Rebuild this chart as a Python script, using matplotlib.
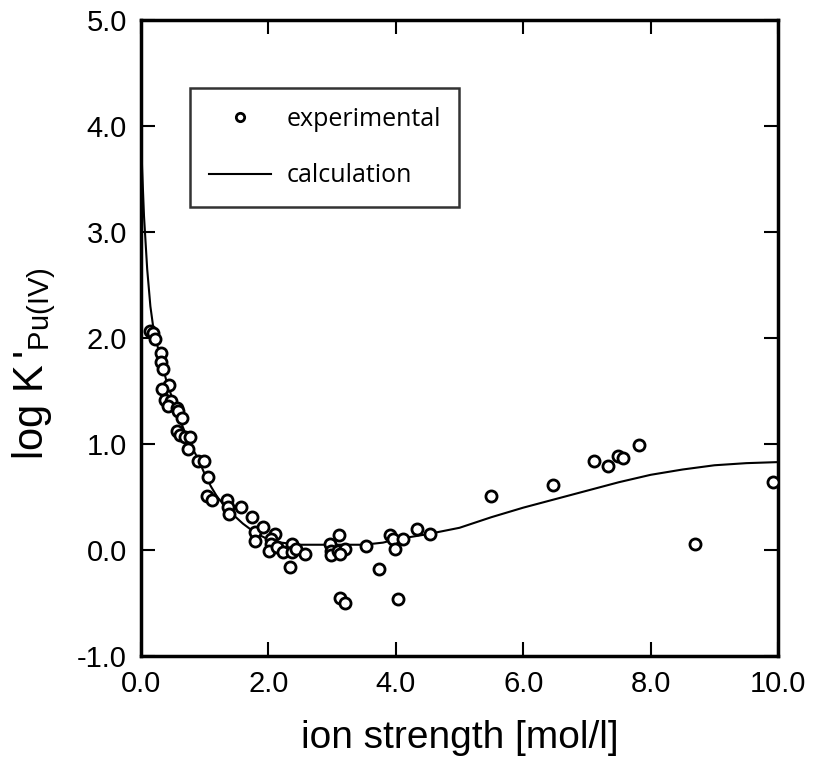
import matplotlib
matplotlib.use('Agg')
import matplotlib.pyplot as plt
import numpy as np

plt.rcParams['font.family'] = ['Liberation Sans', 'DejaVu Sans']
plt.rcParams['mathtext.fontset'] = 'custom'
plt.rcParams['mathtext.rm'] = 'Liberation Sans'
plt.rcParams['axes.unicode_minus'] = False

# experimental points (ion strength, log K')
exp_x = [0.15, 0.19, 0.22, 0.31, 0.31, 0.35, 0.44, 0.34, 0.38, 0.48, 0.43, 0.56, 0.59, 0.64,
         0.56, 0.61, 0.69, 0.77, 0.74, 0.90, 0.99, 1.05, 1.04, 1.11, 1.35, 1.36, 1.38, 1.57,
         1.74, 1.79, 1.91, 1.79, 2.10, 2.05, 2.04, 2.01, 2.13, 2.23, 2.37, 2.37, 2.44, 2.57,
         2.34, 2.97, 2.99, 2.98, 3.11, 3.10, 3.20, 3.12, 3.53, 3.91, 3.95, 3.99, 4.12, 4.33,
         4.54, 3.74, 3.12, 3.20, 4.04, 5.49, 6.46, 7.11, 7.33, 7.49, 7.56, 7.81, 8.70, 9.92]
exp_y = [2.07, 2.05, 1.99, 1.86, 1.77, 1.71, 1.56, 1.52, 1.42, 1.41, 1.36, 1.34, 1.31, 1.25,
         1.12, 1.09, 1.07, 1.07, 0.95, 0.84, 0.84, 0.69, 0.51, 0.47, 0.47, 0.41, 0.34, 0.41,
         0.31, 0.17, 0.22, 0.09, 0.15, 0.10, 0.06, -0.01, 0.03, -0.02, 0.06, -0.02, 0.01, -0.04,
         -0.16, 0.06, -0.01, -0.05, 0.14, -0.01, 0.01, -0.04, 0.04, 0.14, 0.10, 0.01, 0.10, 0.20,
         0.15, -0.18, -0.45, -0.50, -0.46, 0.51, 0.61, 0.84, 0.79, 0.89, 0.87, 0.99, 0.06, 0.64]

# calculated curve
calc_x = [0.0, 0.02, 0.05, 0.1, 0.15, 0.2, 0.3, 0.4, 0.5, 0.6, 0.7, 0.8, 0.9, 1.0, 1.1, 1.2,
          1.4, 1.6, 1.8, 2.0, 2.2, 2.5, 3.0, 3.5, 3.8, 4.0, 4.5, 5.0, 5.5, 6.0, 6.5, 7.0, 7.5,
          8.0, 8.5, 9.0, 9.5, 10.0]
calc_y = [3.98, 3.6, 3.15, 2.65, 2.3, 2.08, 1.83, 1.6, 1.42, 1.25, 1.1, 0.97, 0.86, 0.72, 0.6,
          0.5, 0.36, 0.25, 0.16, 0.1, 0.07, 0.05, 0.05, 0.05, 0.07, 0.1, 0.15, 0.21, 0.31, 0.40,
          0.48, 0.56, 0.64, 0.71, 0.76, 0.80, 0.82, 0.83]

fig = plt.figure(figsize=(8.14, 7.66), dpi=100)
ax = fig.add_axes([0.173, 0.1436, 0.783, 0.830])

ax.plot(exp_x, exp_y, 'o', mfc='white', mec='black', ms=8, mew=2.0, ls='none',
        label='experimental', zorder=3)
ax.plot(calc_x, calc_y, '-', color='black', lw=1.5, label='calculation', zorder=2)

ax.set_xlim(0, 10)
ax.set_ylim(-1, 5)
ax.set_xticks(np.arange(0, 10.1, 2))
ax.set_yticks(np.arange(-1, 5.1, 1))
ax.set_xticklabels(['%.1f' % v for v in np.arange(0, 10.1, 2)])
ax.set_yticklabels(['%.1f' % v for v in np.arange(-1, 5.1, 1)])
ax.tick_params(direction='in', length=10, width=1.5, top=True, right=True,
               labelsize=21)
ax.tick_params(axis='x', pad=10)
ax.tick_params(axis='y', pad=10)
for s in ax.spines.values():
    s.set_linewidth(2.5)

ax.set_xlabel('ion strength [mol/l]', fontsize=28, labelpad=16)
ax.set_ylabel(r"log K$\,'_{\mathrm{Pu(IV)}}$", fontsize=30)
ax.yaxis.set_label_coords(-0.13, 0.46)

leg = ax.legend(loc='upper left', bbox_to_anchor=(0.077, 0.893), frameon=True,
                fancybox=False, edgecolor='black', handlelength=2.5,
                borderpad=0.75, borderaxespad=0, labelspacing=1.25, handletextpad=0.6,
                markerscale=0.75,
                prop={'family': ['Open Sans', 'DejaVu Sans'], 'size': 18})
leg.get_frame().set_linewidth(1.8)

fig.savefig('out.png', dpi=100)
